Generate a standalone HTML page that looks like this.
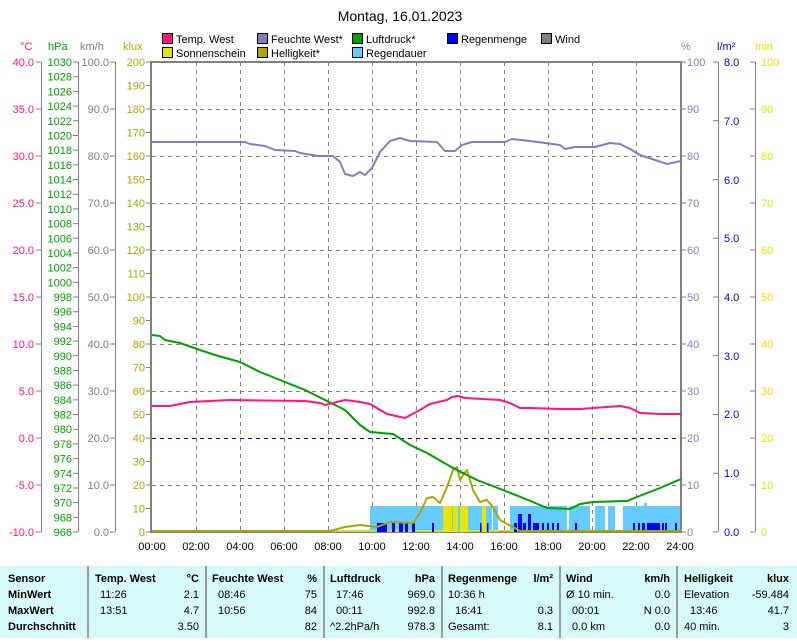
<!DOCTYPE html>
<html><head><meta charset="utf-8"><style>
body{margin:0;background:#fff;width:797px;height:638px;overflow:hidden;font-family:"Liberation Sans",sans-serif}
svg text{font-family:"Liberation Sans",sans-serif;font-size:11px}
</style></head><body>
<svg width="797" height="638" xmlns="http://www.w3.org/2000/svg">
<text x="400" y="21" font-size="14" text-anchor="middle" style="font-size:14px" fill="#000">Montag, 16.01.2023</text>
<g stroke="#000" stroke-width="1">
<rect x="162.5" y="33.5" width="10" height="10" fill="#ff1480"/>
<rect x="257.5" y="33.5" width="10" height="10" fill="#8080c0"/>
<rect x="352.5" y="33.5" width="10" height="10" fill="#00a000"/>
<rect x="447.5" y="33.5" width="10" height="10" fill="#0000ff"/>
<rect x="541.5" y="33.5" width="10" height="10" fill="#808080"/>
<rect x="162.5" y="47.5" width="10" height="10" fill="#e5e500"/>
<rect x="257.5" y="47.5" width="10" height="10" fill="#a8a800"/>
<rect x="352.5" y="47.5" width="10" height="10" fill="#66ccff"/>
</g>
<g fill="#000">
<text x="176" y="43">Temp. West</text><text x="271" y="43">Feuchte West*</text><text x="366" y="43">Luftdruck*</text><text x="461" y="43">Regenmenge</text><text x="555" y="43">Wind</text>
<text x="176" y="57">Sonnenschein</text><text x="271" y="57">Helligkeit*</text><text x="366" y="57">Regendauer</text>
</g>
<text x="20" y="50" fill="#ff1480">°C</text>
<text x="48" y="50" fill="#00a000">hPa</text>
<text x="80" y="50" fill="#808080">km/h</text>
<text x="123" y="50" fill="#a8a800">klux</text>
<text x="681" y="50" fill="#8080c0">%</text>
<text x="717" y="50" fill="#0000ff">l/m²</text>
<text x="755" y="50" fill="#e5e500">min</text>
<g stroke="#808080" stroke-dasharray="4,4" stroke-width="1">
<path d="M152 109.5H681M152 156.5H681M152 203.5H681M152 250.5H681M152 297.5H681M152 344.5H681M152 391.5H681M152 485.5H681"/>
<path d="M196.5 62V532M240.5 62V532M284.5 62V532M328.5 62V532M372.5 62V532M416.5 62V532M460.5 62V532M504.5 62V532M548.5 62V532M592.5 62V532M636.5 62V532"/>
</g>
<path d="M152 438.5H681" stroke="#0000ff" stroke-dasharray="4,4"/>
<g stroke="#808080" stroke-width="1" fill="none">
<path d="M41.5 62V532M78.5 62V532M115.5 62V532M718.5 62V532M755.5 62V532"/>
</g>
<rect x="151" y="62" width="530" height="470" fill="none" stroke="#808080" stroke-width="2"/>
<g id="ticks"></g>
<g fill="#66ccff">
<rect x="152" y="530" width="218" height="2"/>
<rect x="370" y="506" width="122" height="26"/><rect x="493" y="506" width="5" height="26"/>
<rect x="510" y="506" width="57" height="26"/><rect x="569" y="506" width="21" height="26"/>
<rect x="595" y="506" width="10" height="26"/><rect x="608" y="506" width="7" height="26"/>
<rect x="623" y="506" width="57" height="26"/><rect x="644" y="503" width="3" height="3"/>
</g>
<g fill="#e5e500">
<rect x="443" y="506" width="9" height="26"/><rect x="453" y="506" width="5" height="26"/><rect x="460" y="506" width="8" height="26"/><rect x="482" y="506" width="4" height="26"/>
<rect x="152" y="530" width="528" height="1.5"/>
</g>
<g fill="#0000ff">
<rect x="377" y="523" width="5" height="9"/><rect x="382" y="523" width="5" height="9"/><rect x="392" y="523" width="3" height="9"/><rect x="399" y="523" width="4" height="9"/><rect x="405" y="523" width="3" height="9"/><rect x="412" y="523" width="3" height="9"/><rect x="432" y="523" width="2" height="9"/><rect x="480" y="523" width="1.5" height="9"/><rect x="487" y="523" width="1.5" height="9"/>
<rect x="514" y="523" width="3" height="9"/><rect x="518" y="514" width="4" height="18"/><rect x="523" y="523" width="3" height="9"/><rect x="528" y="514" width="3" height="18"/><rect x="533" y="523" width="3" height="9"/><rect x="536" y="523" width="3" height="9"/><rect x="542" y="523" width="2" height="9"/><rect x="547" y="523" width="2" height="9"/><rect x="552" y="523" width="2" height="9"/><rect x="557" y="523" width="2" height="9"/><rect x="575" y="523" width="2" height="9"/>
<rect x="633" y="523" width="2" height="9"/><rect x="638" y="523" width="2" height="9"/><rect x="642" y="523" width="3" height="9"/><rect x="647" y="523" width="3" height="9"/><rect x="648" y="523" width="12" height="9"/><rect x="662" y="523" width="2" height="9"/><rect x="665" y="523" width="2" height="9"/><rect x="675" y="523" width="2" height="9"/>
</g>
<g fill="none" stroke-width="2" stroke-linejoin="round">
<polyline stroke="#a8a800" stroke-width="2" points="152,531 330,531 345,527 360,525 377,527 390,522 413,523 420,513 427,498 433,497 440,503 447,487 453,470 457,467 460,480 463,475 467,470 473,490 480,502 487,500 493,507 500,520 513,527 520,531 681,531"/>
<polyline stroke="#8080c0" points="152,142 245,142 250,144 265,146 275,150 295,151 300,153 318,156 333,156 340,162 345,174 353,176 360,172 365,175 372,168 380,152 390,141 400,138 410,141 437,142 445,151 455,151 462,145 472,142 505,142 512,139 530,141 545,143 560,145 565,149 575,147 595,147 610,143 620,144 630,149 640,155 655,160 667,164 681,161"/>
<polyline stroke="#00a000" points="152,335 160,336 165,340 180,343 200,350 215,355 240,362 260,372 280,380 305,390 325,400 345,410 360,425 370,432 393,434 410,445 427,453 453,468 477,480 503,490 533,502 547,508 570,509 580,504 593,502 627,501 637,497 660,488 681,479"/>
<polyline stroke="#ff1480" points="152,406 170,406 190,402 230,400 305,401 320,403 325,405 345,400 360,402 370,404 387,414 405,418 420,410 430,404 447,400 452,397 458,396 465,398 500,400 510,403 520,408 530,408 560,409 580,409 620,406 630,408 640,413 660,414 681,414"/>
</g>
<g font-size="11" text-anchor="end">
<g fill="#ff1480">
<text x="34" y="66">40.0</text><text x="34" y="113">35.0</text><text x="34" y="160">30.0</text><text x="34" y="207">25.0</text><text x="34" y="254">20.0</text><text x="34" y="301">15.0</text><text x="34" y="348">10.0</text><text x="34" y="395">5.0</text><text x="34" y="442">0.0</text><text x="34" y="489">-5.0</text><text x="34" y="536">-10.0</text>
</g>
<g fill="#808080">
<text x="109" y="66">100.0</text><text x="109" y="113">90.0</text><text x="109" y="160">80.0</text><text x="109" y="207">70.0</text><text x="109" y="254">60.0</text><text x="109" y="301">50.0</text><text x="109" y="348">40.0</text><text x="109" y="395">30.0</text><text x="109" y="442">20.0</text><text x="109" y="489">10.0</text><text x="109" y="536">0.0</text>
</g>
</g>
<g id="hpa" fill="#00a000" text-anchor="end"></g>
<g id="klux" fill="#a8a800" text-anchor="end"></g>
<g text-anchor="start">
<g fill="#8080c0">
<text x="687" y="66">100</text><text x="687" y="113">90</text><text x="687" y="160">80</text><text x="687" y="207">70</text><text x="687" y="254">60</text><text x="687" y="301">50</text><text x="687" y="348">40</text><text x="687" y="395">30</text><text x="687" y="442">20</text><text x="687" y="489">10</text><text x="687" y="536">0</text>
</g>
<g fill="#0000ff">
<text x="724" y="66">8.0</text><text x="724" y="125">7.0</text><text x="724" y="184">6.0</text><text x="724" y="242">5.0</text><text x="724" y="301">4.0</text><text x="724" y="360">3.0</text><text x="724" y="418">2.0</text><text x="724" y="477">1.0</text><text x="724" y="536">0.0</text>
</g>
<g fill="#e5e500">
<text x="761" y="66">100</text><text x="761" y="113">90</text><text x="761" y="160">80</text><text x="761" y="207">70</text><text x="761" y="254">60</text><text x="761" y="301">50</text><text x="761" y="348">40</text><text x="761" y="395">30</text><text x="761" y="442">20</text><text x="761" y="489">10</text><text x="761" y="536">0</text>
</g>
</g>
<g fill="#000" text-anchor="middle">
<text x="152" y="550">00:00</text><text x="196" y="550">02:00</text><text x="240" y="550">04:00</text><text x="284" y="550">06:00</text><text x="328" y="550">08:00</text><text x="372" y="550">10:00</text><text x="416" y="550">12:00</text><text x="460" y="550">14:00</text><text x="504" y="550">16:00</text><text x="548" y="550">18:00</text><text x="592" y="550">20:00</text><text x="636" y="550">22:00</text><text x="680" y="550">24:00</text>
</g>
<rect x="0" y="566" width="797" height="72" fill="#d6fafa"/>
<g stroke="#808080" stroke-width="1.5">
<path d="M88 566V638M206 566V638M324 566V638M442 566V638M560 566V638M677 566V638"/>
</g>
<g fill="#000" font-weight="bold">
<text x="8" y="582">Sensor</text><text x="8" y="598">MinWert</text><text x="8" y="614">MaxWert</text><text x="8" y="630">Durchschnitt</text>
<text x="95" y="582">Temp. West</text><text x="199" y="582" text-anchor="end">°C</text>
<text x="212" y="582">Feuchte West</text><text x="317" y="582" text-anchor="end">%</text>
<text x="330" y="582">Luftdruck</text><text x="435" y="582" text-anchor="end">hPa</text>
<text x="448" y="582">Regenmenge</text><text x="553" y="582" text-anchor="end">l/m²</text>
<text x="566" y="582">Wind</text><text x="670" y="582" text-anchor="end">km/h</text>
<text x="684" y="582">Helligkeit</text><text x="789" y="582" text-anchor="end">klux</text>
</g>
<g fill="#000">
<text x="100" y="598">11:26</text><text x="100" y="614">13:51</text>
<text x="199" y="598" text-anchor="end">2.1</text><text x="199" y="614" text-anchor="end">4.7</text><text x="199" y="630" text-anchor="end">3.50</text>
<text x="218" y="598">08:46</text><text x="218" y="614">10:56</text>
<text x="317" y="598" text-anchor="end">75</text><text x="317" y="614" text-anchor="end">84</text><text x="317" y="630" text-anchor="end">82</text>
<text x="336" y="598">17:46</text><text x="336" y="614">00:11</text><text x="330" y="630">^2.2hPa/h</text>
<text x="435" y="598" text-anchor="end">969.0</text><text x="435" y="614" text-anchor="end">992.8</text><text x="435" y="630" text-anchor="end">978.3</text>
<text x="448" y="598">10:36 h</text><text x="455" y="614">16:41</text><text x="448" y="630">Gesamt:</text>
<text x="553" y="614" text-anchor="end">0.3</text><text x="553" y="630" text-anchor="end">8.1</text>
<text x="566" y="598">Ø 10 min.</text><text x="572" y="614">00:01</text><text x="572" y="630">0.0 km</text>
<text x="670" y="598" text-anchor="end">0.0</text><text x="670" y="614" text-anchor="end">N 0.0</text><text x="670" y="630" text-anchor="end">0.0</text>
<text x="684" y="598">Elevation</text><text x="690" y="614">13:46</text><text x="684" y="630">40 min.</text>
<text x="789" y="598" text-anchor="end">-59.484</text><text x="789" y="614" text-anchor="end">41.7</text><text x="789" y="630" text-anchor="end">3</text>
</g>
</svg>
<script>
(function(){
var ns="http://www.w3.org/2000/svg";
function el(p,t,a,txt){var e=document.createElementNS(ns,t);for(var k in a)e.setAttribute(k,a[k]);if(txt!==undefined)e.textContent=txt;p.appendChild(e);}
var tk=document.getElementById('ticks'),h=document.getElementById('hpa'),kl=document.getElementById('klux');
var d="";
for(var i=0;i<=10;i++){var y=62+i*47;d+="M36 "+y+"H41M110 "+y+"H115M681 "+y+"H686M750 "+y+"H755";}
for(var i=0;i<=32;i++){var y=62+i*470/32;d+="M73 "+y+"H78";el(h,'text',{x:72,y:y+4},String(1030-2*i));}
for(var i=0;i<=20;i++){var y=62+i*23.5;d+="M146 "+y+"H151";el(kl,'text',{x:145,y:y+4},String(200-10*i));}
for(var i=0;i<=8;i++){var y=62+i*470/8;d+="M713 "+y+"H718";}
el(tk,'path',{d:d,stroke:'#808080','stroke-width':1,fill:'none'});
})();
</script>
</body></html>
